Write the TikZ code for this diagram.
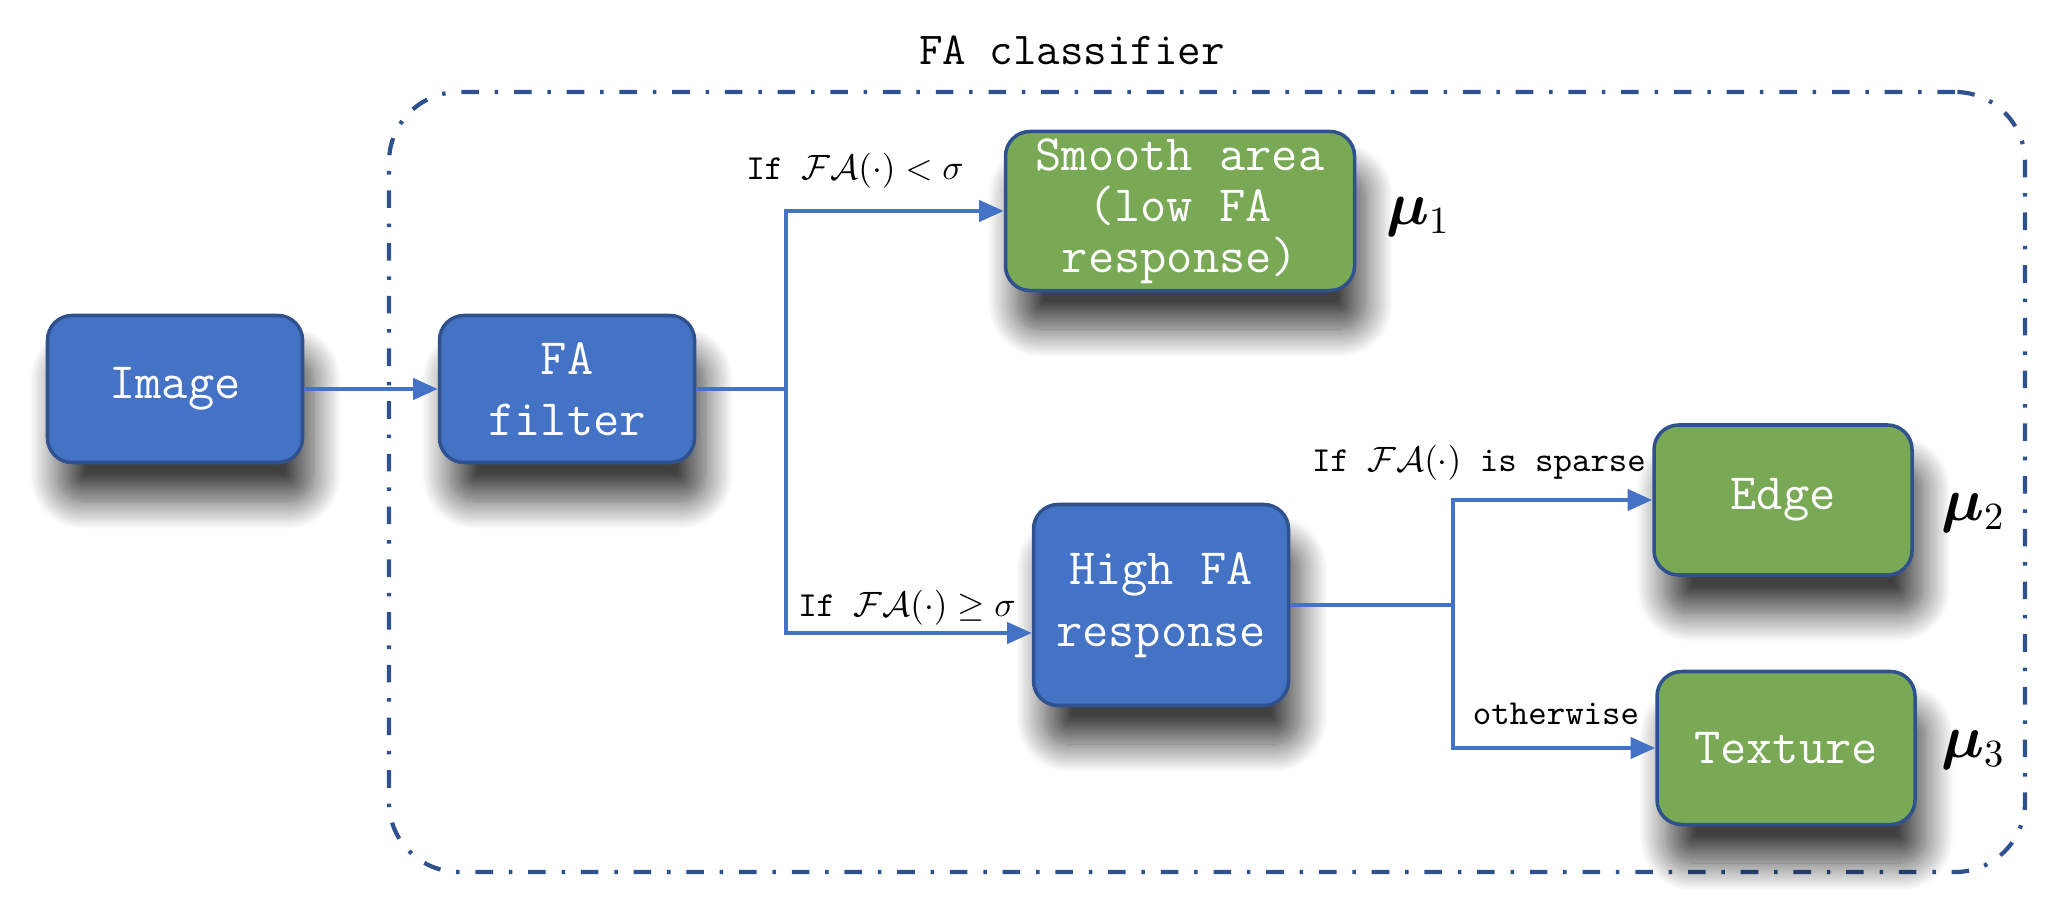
\documentclass[tikz,border=0pt]{standalone}
\usepackage{amsmath,amssymb,bm}
\usepackage{tikz}
\usetikzlibrary{positioning,arrows.meta,shadows.blur}
\definecolor{boxblue}{RGB}{68,114,196}
\definecolor{boxgreen}{RGB}{122,169,85}
\definecolor{edgeblue}{RGB}{47,82,143}
\definecolor{frameblue}{RGB}{47,82,143}

\begin{document}
\begin{tikzpicture}[>={Triangle[length=7pt,width=6pt]},
  every node/.style={font=\ttfamily\fontsize{10}{12}\selectfont},
  boxshadow/.style={blur shadow={shadow xshift=3pt,shadow yshift=-11pt,shadow blur radius=8pt,shadow blur steps=25,shadow opacity=75}},
  bluebox/.style={draw=edgeblue,line width=1pt,rounded corners=7pt,fill=boxblue,text=white,align=center,inner sep=2pt,font=\ttfamily\fontsize{14.5}{17.5}\selectfont,boxshadow},
  greenbox/.style={bluebox,fill=boxgreen},
  flow/.style={->,draw=boxblue,line width=1.1pt},
  cond/.style={font=\ttfamily\fontsize{10}{12}\selectfont},
  weight/.style={font=\fontsize{16}{19}\selectfont}]
\useasboundingbox (0,0) rectangle (20.62,9.06);
\node[draw=frameblue,line width=1.2pt,dash pattern=on 5pt off 4.5pt on 1pt off 4.5pt,rounded corners=0.7cm,minimum width=16.36cm,minimum height=7.8cm] (frame) at (12.07,4.24) {};
\node[font=\ttfamily\fontsize{13}{15}\selectfont] (title) at (10.72,8.56) {FA classifier};
\node[bluebox,minimum width=2.55cm,minimum height=1.47cm] (img) at (1.75,5.17) {Image};
\node[bluebox,minimum width=2.55cm,minimum height=1.47cm] (filt) at (5.67,5.17) {FA\\filter};
\node[greenbox,minimum width=3.49cm,minimum height=1.52cm,font=\ttfamily\fontsize{14.5}{14.5}\selectfont] (smooth) at (11.80,6.95) {Smooth area\\(low FA\\response)};
\node[bluebox,minimum width=2.55cm,minimum height=2.01cm] (high) at (11.61,3.01) {High FA\\response};
\node[greenbox,minimum width=2.58cm,minimum height=1.5cm] (edge) at (17.83,4.06) {Edge};
\node[greenbox,minimum width=2.58cm,minimum height=1.53cm] (tex) at (17.86,1.58) {Texture};
\coordinate (split1) at (7.86,5.17);
\coordinate (split2) at (14.53,3.01);
\draw[flow] (img) -- (filt);
\draw[draw=boxblue,line width=1.1pt] (filt.east) -- (split1);
\draw[flow] (split1) |- (smooth.west);
\draw[flow] (split1) |- ([yshift=-0.28cm]high.west);
\draw[draw=boxblue,line width=1.1pt] (high.east) -- (split2);
\draw[flow] (split2) |- (edge.west);
\draw[flow] (split2) |- (tex.west);
\node[cond] (lt) at (8.55,7.35) {If $\mathcal{F}\mathcal{A}(\cdot) < \sigma$};
\node[cond] (ge) at (9.07,2.98) {If $\mathcal{F}\mathcal{A}(\cdot) \geq \sigma$};
\node[cond] (sparse) at (14.79,4.43) {If $\mathcal{F}\mathcal{A}(\cdot)$ is sparse};
\node[cond] (other) at (15.56,1.92) {otherwise};
\node[weight] (mu1) at (14.18,6.89) {$\bm{\mu}_1$};
\node[weight] (mu2) at (19.73,3.93) {$\bm{\mu}_2$};
\node[weight] (mu3) at (19.73,1.56) {$\bm{\mu}_3$};
\end{tikzpicture}
\end{document}
